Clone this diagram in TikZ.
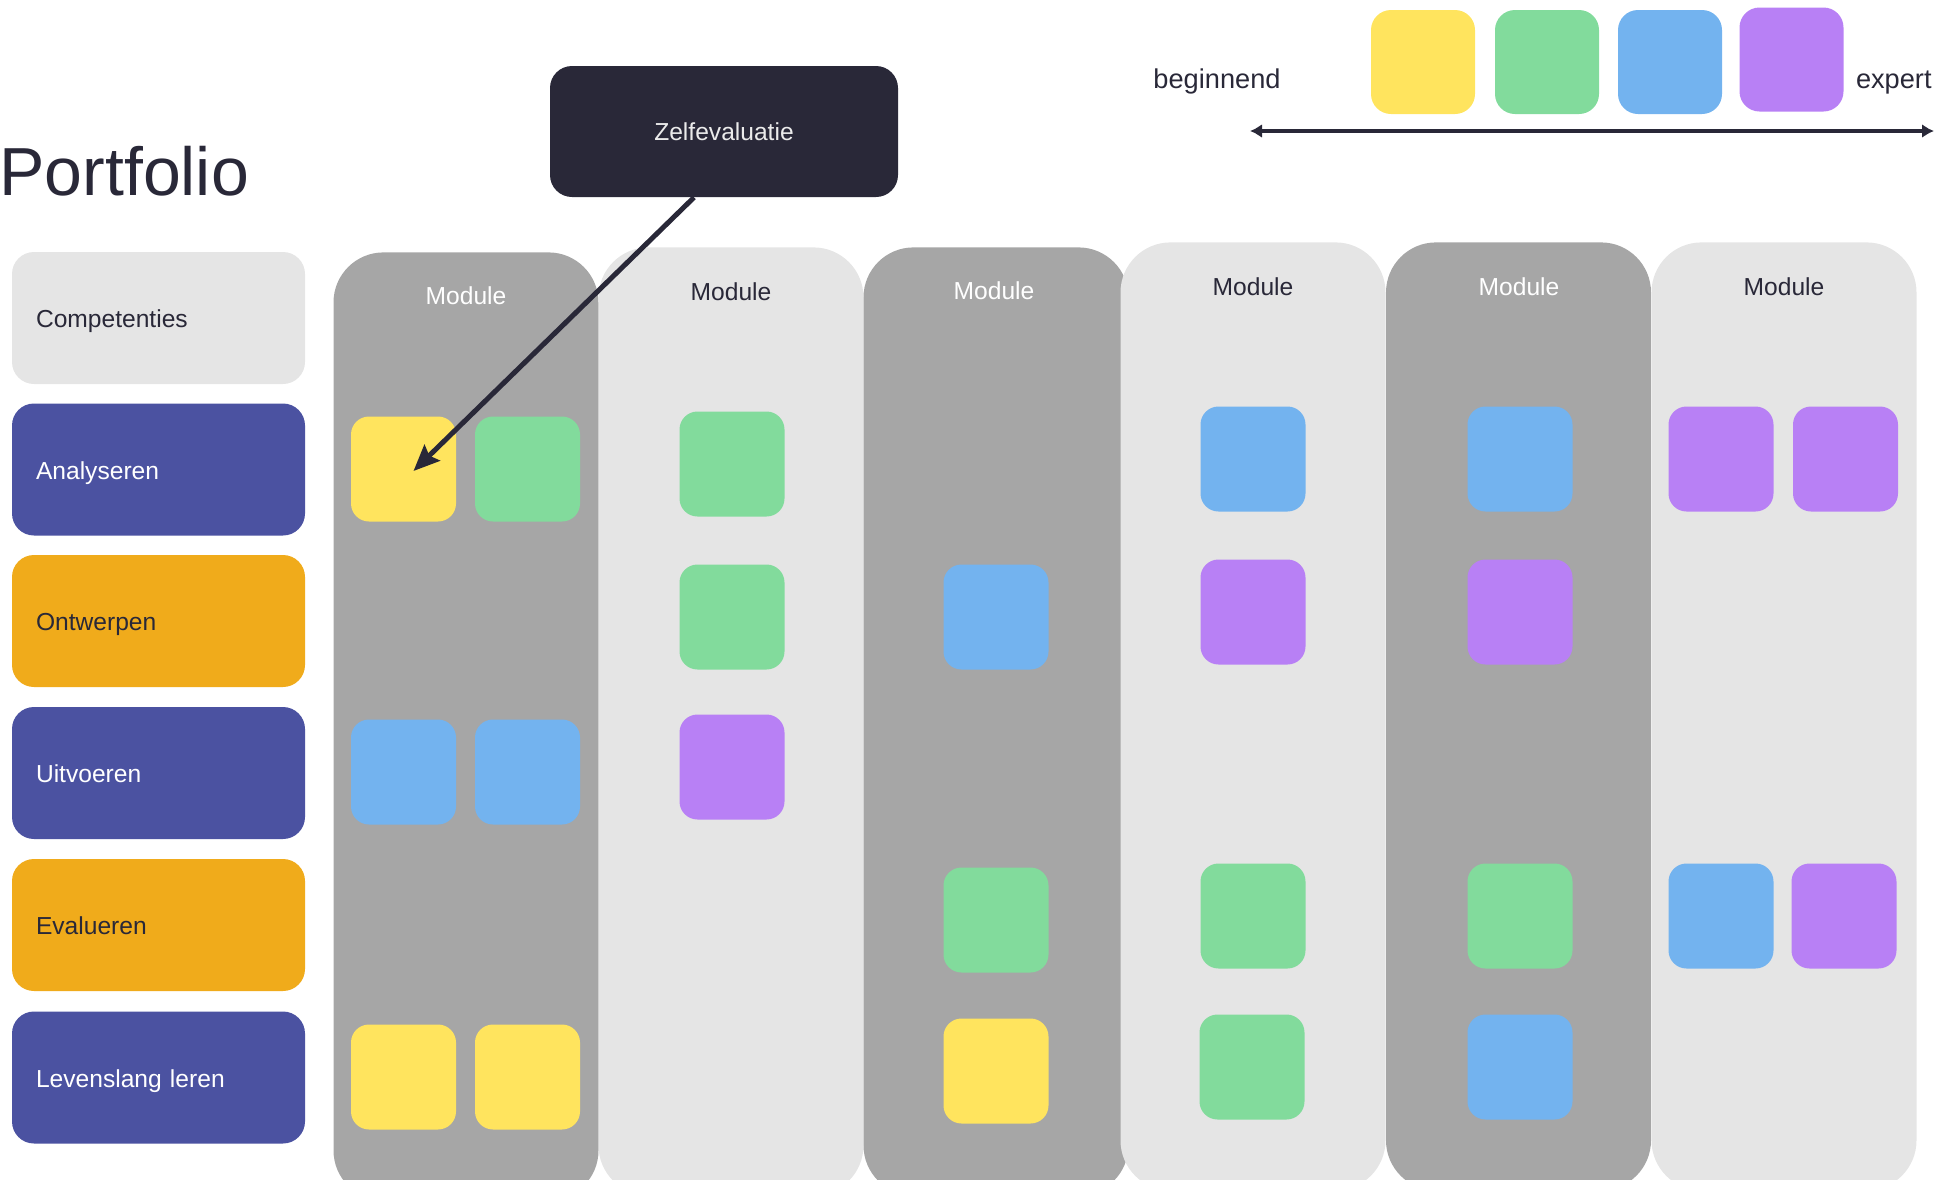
\documentclass[tikz,border=0pt]{standalone}
\usepackage{fontspec}
\setmainfont{Liberation Sans}
\usetikzlibrary{arrows.meta}
\definecolor{ink}{HTML}{292838}
\definecolor{colD}{HTML}{A6A6A6}
\definecolor{colL}{HTML}{E5E5E5}
\definecolor{navy}{HTML}{4B52A1}
\definecolor{amber}{HTML}{F0AB1B}
\definecolor{cY}{HTML}{FFE45E}
\definecolor{cG}{HTML}{82DB9C}
\definecolor{cB}{HTML}{73B3EF}
\definecolor{cP}{HTML}{B880F5}
\begin{document}
\begin{tikzpicture}[x=0.5pt,y=-0.5pt,
  font=\fontsize{12.3pt}{14pt}\selectfont,
  column/.style={rectangle, rounded corners=25pt, minimum width=132.5pt, minimum height=474pt, anchor=north, inner sep=0pt},
  darkcol/.style={column, fill=colD},
  lightcol/.style={column, fill=colL},
  modwhite/.style={inner sep=0pt, text=white},
  moddark/.style={inner sep=0pt, text=ink},
  lbl/.style={rectangle, rounded corners=11pt, minimum height=66pt, text width=122.5pt, text height=10.5pt, text depth=1pt, inner xsep=12pt, inner ysep=0pt, align=left},
  lblnavy/.style={lbl, fill=navy, text=white},
  lblamber/.style={lbl, fill=amber, text=ink},
  lblgray/.style={lbl, fill=colL, text=ink},
  chip/.style={rectangle, rounded corners=9pt, minimum width=52.5pt, minimum height=52.5pt, inner sep=0pt},
  cy/.style={chip, fill=cY}, cg/.style={chip, fill=cG},
  cb/.style={chip, fill=cB}, cp/.style={chip, fill=cP},
  legendtxt/.style={inner sep=0pt, text=ink, font=\fontsize{13.6pt}{16pt}\selectfont}
]
\useasboundingbox (0,0) rectangle (1944,1179);
\clip (0,0) rectangle (1944,1179);

% title
\node[anchor=base west, inner sep=0pt, text=ink, font=\fontsize{34pt}{39pt}\selectfont] (title) at (-1,195) {Portfolio};

% legend
\node[legendtxt, anchor=base] (beg) at (1217,88) {beginnend};
\node[legendtxt, anchor=base east] (exp) at (1932,88) {expert};
\node[chip, fill=cY, minimum width=52pt, minimum height=52pt, rounded corners=10pt] (ly) at (1423,62) {};
\node[chip, fill=cG, minimum width=52pt, minimum height=52pt, rounded corners=10pt] (lg) at (1547,62) {};
\node[chip, fill=cB, minimum width=52pt, minimum height=52pt, rounded corners=10pt] (lb) at (1670,62) {};
\node[chip, fill=cP, minimum width=52pt, minimum height=52pt, rounded corners=10pt] (lp) at (1791.5,59.5) {};
\coordinate (arL) at (1250,131);
\coordinate (arR) at (1934,131);
\draw[ink, line width=1.8pt, {Latex[length=6pt,width=7pt]}-{Latex[length=6pt,width=7pt]}] (arL) -- (arR);

% competence labels
\node[lblgray]  (comp) at (158.5,318)  {Competenties};
\node[lblnavy]  (ana)  at (158.5,469.5) {Analyseren};
\node[lblamber] (ont)  at (158.5,621)  {Ontwerpen};
\node[lblnavy]  (uit)  at (158.5,773)  {Uitvoeren};
\node[lblamber] (eva)  at (158.5,925)  {Evalueren};
\node[lblnavy]  (lev)  at (158.5,1077.5) {Levenslang leren};

% module columns
\node[darkcol]  (m1) at (466,252) {};
\node[lightcol] (m2) at (731,247) {};
\node[darkcol]  (m3) at (996,247) {};
\node[lightcol] (m4) at (1253,242) {};
\node[darkcol]  (m5) at (1518.5,242) {};
\node[lightcol] (m6) at (1784,242) {};
\node[modwhite] (t1) at (466,296) {Module};
\node[moddark]  (t2) at (731,292) {Module};
\node[modwhite] (t3) at (994,291) {Module};
\node[moddark]  (t4) at (1253,287) {Module};
\node[modwhite] (t5) at (1519,287) {Module};
\node[moddark]  (t6) at (1784,287) {Module};

% chips column 1
\node[cy] (a1) at (403.5,469) {};
\node[cg] (a2) at (527.5,469) {};
\node[cb] (a3) at (403.5,772) {};
\node[cb] (a4) at (527.5,772) {};
\node[cy] (a5) at (403.5,1077) {};
\node[cy] (a6) at (527.5,1077) {};
% column 2
\node[cg] (b1) at (732,464) {};
\node[cg] (b2) at (732,617) {};
\node[cp] (b3) at (732,767) {};
% column 3
\node[cb] (c1) at (996,617) {};
\node[cg] (c2) at (996,920) {};
\node[cy] (c3) at (996,1071) {};
% column 4
\node[cb] (d1) at (1253,459) {};
\node[cp] (d2) at (1253,612) {};
\node[cg] (d3) at (1253,916) {};
\node[cg] (d4) at (1252,1067) {};
% column 5
\node[cb] (e1) at (1520,459) {};
\node[cp] (e2) at (1520,612) {};
\node[cg] (e3) at (1520,916) {};
\node[cb] (e4) at (1520,1067) {};
% column 6
\node[cp] (f1) at (1721,459) {};
\node[cp] (f2) at (1845.5,459) {};
\node[cb] (f3) at (1721,916) {};
\node[cp] (f4) at (1844,916) {};

% Zelfevaluatie
\node[rectangle, rounded corners=11pt, fill=ink, text=white!92!black, minimum width=174pt, minimum height=65.5pt, inner sep=0pt] (zelf) at (724,131.5) {Zelfevaluatie};
\draw[ink, line width=2.5pt, -{Stealth[length=13pt,width=11pt,inset=2pt]}] ([xshift=-15pt]zelf.south) -- ([xshift=5pt,yshift=-1pt]a1.center);
\end{tikzpicture}
\end{document}
